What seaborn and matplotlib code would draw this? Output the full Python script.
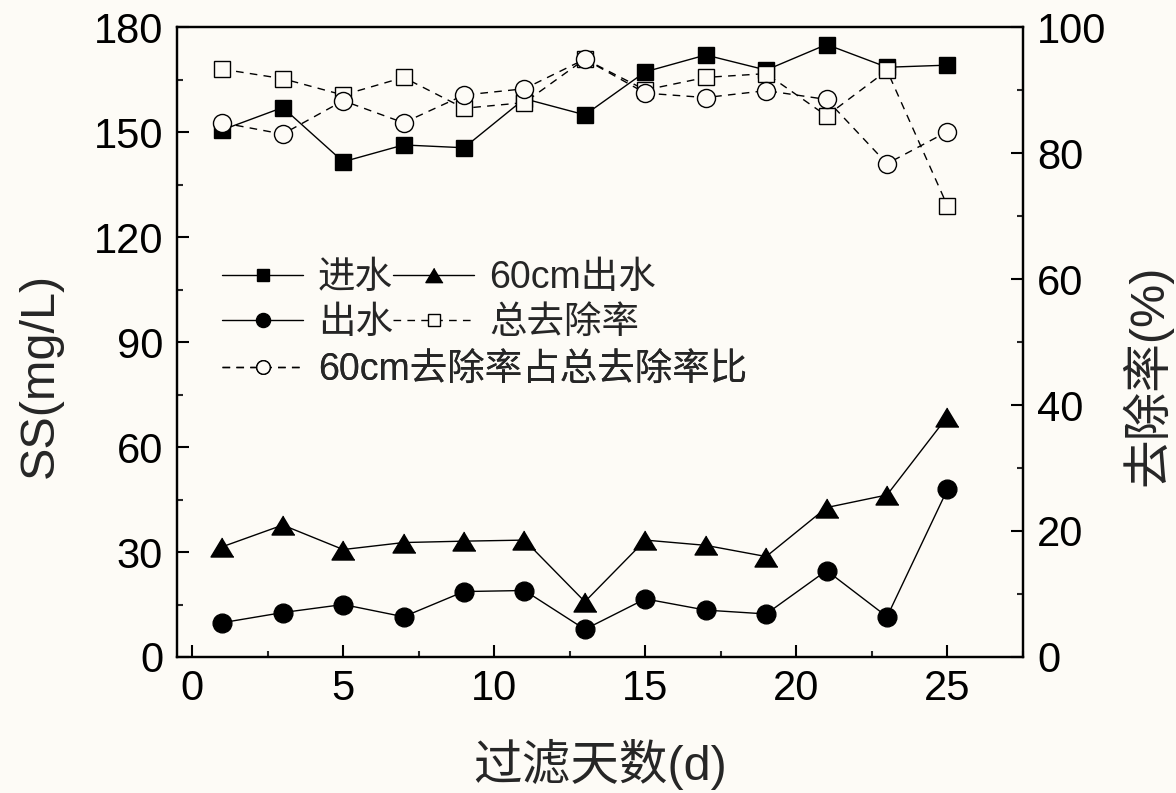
import matplotlib
matplotlib.use("Agg")
import matplotlib.pyplot as plt
import seaborn as sns
from matplotlib.ticker import MultipleLocator
from matplotlib.font_manager import FontProperties

# ---- data -------------------------------------------------------------
days = [1, 3, 5, 7, 9, 11, 13, 15, 17, 19, 21, 23, 25]

# SS concentration (mg/L), left axis
inflow = [150.6, 157.0, 141.5, 146.3, 145.5, 159.5, 154.9, 167.2, 172.0, 167.7, 175.0, 168.5, 169.1]
outflow_60cm = [31.5, 37.7, 30.7, 32.7, 33.1, 33.4, 15.8, 33.4, 31.9, 28.7, 42.7, 46.3, 68.7]
outflow = [9.8, 12.7, 15.0, 11.5, 18.7, 19.0, 7.9, 16.6, 13.4, 12.3, 24.7, 11.5, 47.9]

# removal rates (%), right axis
total_removal = [93.3, 91.8, 89.2, 92.0, 87.1, 88.0, 94.9, 90.0, 92.0, 92.6, 85.9, 93.1, 71.6]
ratio_60cm = [84.8, 83.0, 88.3, 84.8, 89.2, 90.2, 94.9, 89.5, 88.8, 89.9, 88.5, 78.3, 83.4]

labels = ["进水", "60cm出水", "出水", "总去除率", "60cm去除率占总去除率比"]

x_ticks = [0, 5, 10, 15, 20, 25]
left_ticks = [0, 30, 60, 90, 120, 150, 180]
right_ticks = [0, 20, 40, 60, 80, 100]

# ---- style ------------------------------------------------------------
BG = "#fdfbf6"
sns.set_style("ticks")
plt.rcParams["font.family"] = ["Liberation Sans", "Noto Sans CJK SC"]
plt.rcParams["axes.unicode_minus"] = False
plt.rcParams["figure.facecolor"] = BG
plt.rcParams["axes.facecolor"] = BG
plt.rcParams["savefig.facecolor"] = BG

fig = plt.figure(figsize=(11.76, 7.93), dpi=100)
ax = fig.add_axes([177 / 1176, 1 - 657 / 793, 846 / 1176, 630 / 793])
ax2 = ax.twinx()
ax2.patch.set_visible(False)

tri = [(0, 0.83), (-1, -0.83), (1, -0.83)]
dash = (0, (5.5, 4.5))

common = dict(color="black", linewidth=1.0, markeredgecolor="black", markeredgewidth=1.0)

sns.lineplot(x=days, y=inflow, ax=ax, marker="s", markersize=11.5,
             markerfacecolor="black", label=labels[0], legend=False, **common)
sns.lineplot(x=days, y=outflow_60cm, ax=ax, marker=tri, markersize=16.5,
             markerfacecolor="black", label=labels[1], legend=False, **common)
sns.lineplot(x=days, y=outflow, ax=ax, marker="o", markersize=13.5,
             markerfacecolor="black", label=labels[2], legend=False, **common)

sns.lineplot(x=days, y=total_removal, ax=ax2, marker="s", markersize=12,
             markerfacecolor=BG, linestyle=dash, label=labels[3], legend=False, **common)
sns.lineplot(x=days, y=ratio_60cm, ax=ax2, marker="o", markersize=13,
             markerfacecolor=BG, linestyle=dash, label=labels[4], legend=False, **common)

# ---- axes -------------------------------------------------------------
ax.set_xlim(-0.5, 27.5)
ax.set_ylim(0, 180)
ax2.set_ylim(0, 100)

ax.set_xticks(x_ticks)
ax.set_yticks(left_ticks)
ax2.set_yticks(right_ticks)
ax.xaxis.set_minor_locator(MultipleLocator(2.5))
ax.yaxis.set_minor_locator(MultipleLocator(15))
ax2.yaxis.set_minor_locator(MultipleLocator(10))

for a in (ax, ax2):
    for s in a.spines.values():
        s.set_visible(True)
        s.set_linewidth(1.6)
        s.set_color("black")

ax.tick_params(axis="both", which="major", direction="in", length=8.5, width=1.5,
               labelsize=30, colors="black")
ax.tick_params(axis="both", which="minor", direction="in", length=4.3, width=1.5)
ax.tick_params(axis="y", which="major", pad=10)
ax.tick_params(axis="x", which="major", pad=9)
ax.tick_params(axis="y", right=False, which="both")
ax2.tick_params(axis="y", which="major", direction="in", length=8.5, width=1.5,
                labelsize=30, pad=10, colors="black")
ax2.tick_params(axis="y", which="minor", direction="in", length=4.3, width=1.5)

ax.set_xlabel("过滤天数(d)", fontsize=35)
ax.set_ylabel("SS(mg/L)", fontsize=35)
ax2.set_ylabel("去除率(%)", fontsize=35, rotation=90)

label_y = (657 - 375) / 630
ax.xaxis.set_label_coords(0.5, (657 - 764) / 630)
ax.xaxis.label.set_verticalalignment("center")
ax.yaxis.set_label_coords((40 - 177) / 846, label_y)
ax.yaxis.label.set_verticalalignment("center")
ax2.yaxis.set_label_coords((1147 - 177) / 846, label_y)
ax2.yaxis.label.set_verticalalignment("center")

# ---- legend: three rows -----------------------------------------------
h_left = ax.get_lines()
h_right = ax2.get_lines()
handles = {lab: h for h, lab in zip(list(h_left) + list(h_right), labels)}

leg_font = FontProperties(family=["Liberation Sans", "Noto Sans CJK SC"], size=27)
leg_kw = dict(loc="center left", frameon=False, borderpad=0, borderaxespad=0,
              handlelength=2.16, handletextpad=0.4, columnspacing=0.0,
              markerscale=0.75, prop=leg_font, bbox_transform=ax.transAxes)
x0 = (222 - 177) / 846
rows = [
    ([labels[0], labels[1]], (657 - 278) / 630),
    ([labels[2], labels[3]], (657 - 323) / 630),
    ([labels[4]], (657 - 370) / 630),
]
for labs, y in rows:
    leg = ax2.legend([handles[l] for l in labs], labs, ncol=len(labs),
                     bbox_to_anchor=(x0, y), **leg_kw)
    ax2.add_artist(leg)

fig.savefig("out.png", dpi=100, facecolor=BG)
